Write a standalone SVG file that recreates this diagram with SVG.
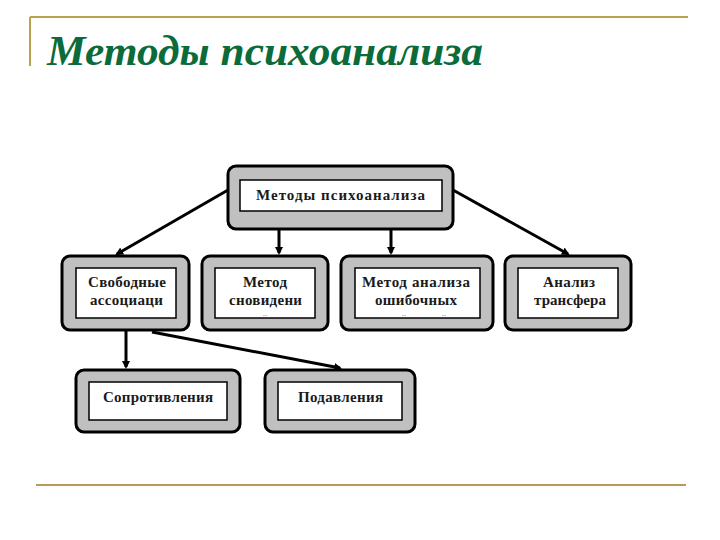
<svg xmlns="http://www.w3.org/2000/svg" width="720" height="540" viewBox="0 0 720 540">
<style>
.outer{fill:#c0c0c0;stroke:#000;stroke-width:3}
.inner{fill:#fff;stroke:#000;stroke-width:1.5}
.lbl{font-family:"Liberation Serif","DejaVu Serif",serif;font-weight:bold;font-size:15px;fill:#1a1a1a}
.dots{font-family:"Liberation Serif",serif;font-size:9px;fill:#666;text-anchor:middle}
.con{stroke:#000;stroke-width:3;fill:none;marker-end:url(#ah)}
</style>
<defs>
<marker id="ah" markerWidth="8" markerHeight="8" refX="6" refY="4" orient="auto" markerUnits="userSpaceOnUse">
<path d="M0,0 L8,4 L0,8 Z" fill="#000"/>
</marker>
</defs>
<rect width="720" height="540" fill="#fff"/>
<g id="frame">
<line x1="30" y1="17" x2="688" y2="17" stroke="#b8a24a" stroke-width="2"/>
<line x1="30" y1="17" x2="30" y2="66" stroke="#b8a24a" stroke-width="2"/>
<line x1="36" y1="485" x2="686" y2="485" stroke="#b89a5a" stroke-width="2"/>
<text x="47" y="65" font-family="Liberation Serif,serif" font-weight="bold" font-style="italic" font-size="42" fill="#0b6b3a" textLength="436" lengthAdjust="spacingAndGlyphs">Методы психоанализа</text>
</g>
<g id="connectors">
<line class="con" x1="228" y1="190" x2="117" y2="254"/>
<line class="con" x1="279" y1="229" x2="279" y2="253"/>
<line class="con" x1="391" y1="229" x2="391" y2="253"/>
<line class="con" x1="453" y1="190" x2="568" y2="254"/>
<line class="con" x1="126" y1="331" x2="126" y2="367"/>
<line class="con" x1="152" y1="332" x2="340" y2="368"/>
</g>
<g id="n0">
<rect class="outer" x="228" y="166" width="225" height="63" rx="8"/>
<rect class="inner" x="240" y="180" width="202" height="31"/>
<text class="lbl" x="256" y="200" textLength="169" lengthAdjust="spacing">Методы психоанализа</text>
</g>
<g id="n1">
<rect class="outer" x="62" y="256" width="127" height="74" rx="8"/>
<rect class="inner" x="76" y="268" width="100" height="50"/>
<text class="lbl" x="88" y="287" textLength="78" lengthAdjust="spacing">Свободные</text>
<text class="lbl" x="90" y="305" textLength="73" lengthAdjust="spacing">ассоциаци</text>
</g>
<g id="n2">
<rect class="outer" x="202" y="256" width="126" height="74" rx="8"/>
<rect class="inner" x="215" y="268" width="100" height="50"/>
<text class="lbl" x="243" y="287" textLength="44" lengthAdjust="spacing">Метод</text>
<text class="lbl" x="229" y="305" textLength="73" lengthAdjust="spacing">сновидени</text>
<text class="dots" x="265" y="316">..</text>
</g>
<g id="n3">
<rect class="outer" x="341" y="256" width="152" height="74" rx="8"/>
<rect class="inner" x="355" y="268" width="125" height="50"/>
<text class="lbl" x="362" y="287" textLength="108" lengthAdjust="spacing">Метод анализа</text>
<text class="lbl" x="375" y="305" textLength="82" lengthAdjust="spacing">ошибочных</text>
<text class="dots" x="404" y="316">..</text>
<text class="dots" x="444" y="316">..</text>
</g>
<g id="n4">
<rect class="outer" x="505" y="256" width="126" height="74" rx="8"/>
<rect class="inner" x="518" y="268" width="100" height="50"/>
<text class="lbl" x="543" y="287" textLength="52" lengthAdjust="spacing">Анализ</text>
<text class="lbl" x="534" y="305" textLength="72" lengthAdjust="spacing">трансфера</text>
</g>
<g id="n5">
<rect class="outer" x="76" y="370" width="164" height="62" rx="8"/>
<rect class="inner" x="89" y="382" width="138" height="38"/>
<text class="lbl" x="103" y="402" textLength="110" lengthAdjust="spacing">Сопротивления</text>
</g>
<g id="n6">
<rect class="outer" x="265" y="370" width="150" height="62" rx="8"/>
<rect class="inner" x="278" y="382" width="124" height="38"/>
<text class="lbl" x="298" y="402" textLength="85" lengthAdjust="spacing">Подавления</text>
</g>
</svg>
